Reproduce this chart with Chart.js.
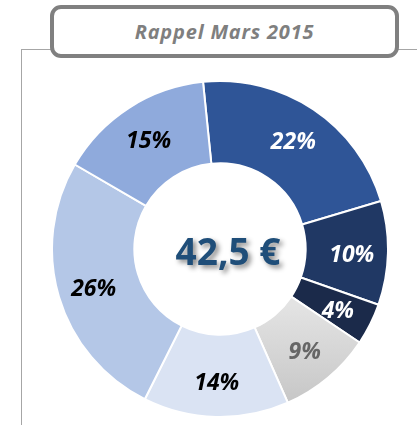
<!DOCTYPE html>
<html>
<head>
<meta charset="utf-8">
<script src="https://cdn.jsdelivr.net/npm/chart.js@4"></script>
<style>
  html, body { margin: 0; padding: 0; background: #fff; }
  body { width: 417px; height: 425px; position: relative; overflow: hidden; }
  /* cadre gris gauche / haut */
  .frame-left { position: absolute; left: 21px; top: 49px; width: 1px; height: 380px; background: #a6a6a6; }
  .frame-top1 { position: absolute; left: 21px; top: 49px; width: 32px; height: 1px; background: #a6a6a6; }
  .frame-top2 { position: absolute; left: 396px; top: 49px; width: 21px; height: 1px; background: #a6a6a6; }
  .title-box {
    position: absolute; left: 50px; top: 5px; width: 341px; height: 45px;
    border: 4px solid #808080; border-radius: 11px; background: #fff;
    font-family: "Open Sans", sans-serif; font-weight: bold; font-style: italic;
    font-size: 20px; letter-spacing: 0.8px; color: #7f7f7f; text-align: center; line-height: 45px;
  }
  #wrap { position: absolute; left: 51px; top: 80px; width: 338px; height: 338px; }
</style>
</head>
<body>
<div class="frame-left"></div>
<div class="frame-top1"></div>
<div class="frame-top2"></div>
<div class="title-box">Rappel Mars 2015</div>
<div id="wrap"><canvas id="chart"></canvas></div>
<script>
// Données du graphique (sens horaire, à partir du haut)
const values = [22, 10, 4, 9, 14, 26, 15];
const sliceColors = ['#2f5597', '#203864', '#1b2a4a', 'grey-gradient', '#dae3f3', '#b4c7e7', '#8faadc'];
const labelColors = ['#ffffff', '#ffffff', '#ffffff', '#666666', '#000000', '#000000', '#000000'];
const centerText = '42,5 €';

// Dégradé gris pour la part 9%
function sliceColor(context) {
    const c = sliceColors[context.dataIndex];
    if (c !== 'grey-gradient') return c;
    const chart = context.chart;
    if (!chart.chartArea) return '#d6d6d6';
    const g = chart.ctx.createLinearGradient(0, 225, 0, 335);
    g.addColorStop(0, '#e3e3e3');
    g.addColorStop(1, '#c3c3c3');
    return g;
}

// Étiquettes en pourcentage + texte central
const labelsPlugin = {
    id: 'labelsPlugin',
    afterDatasetsDraw(chart) {
        const ctx = chart.ctx;
        const meta = chart.getDatasetMeta(0);
        ctx.save();
        ctx.textAlign = 'center';
        ctx.textBaseline = 'middle';
        ctx.font = 'italic bold 23px "Open Sans", sans-serif';
        meta.data.forEach((arc, i) => {
            const a = arc.getProps(['x', 'y', 'startAngle', 'endAngle', 'innerRadius', 'outerRadius']);
            const mid = (a.startAngle + a.endAngle) / 2;
            // un peu plus vers l'extérieur que le milieu de l'anneau
            const r = a.innerRadius + (a.outerRadius - a.innerRadius) * 0.56;
            ctx.fillStyle = labelColors[i];
            ctx.fillText(values[i] + '%', a.x + Math.cos(mid) * r, a.y + Math.sin(mid) * r + 3);
        });
        const first = meta.data[0];
        ctx.font = 'bold 37px "Open Sans", sans-serif';
        ctx.shadowColor = 'rgba(0,0,0,0.45)';
        ctx.shadowBlur = 5;
        ctx.shadowOffsetX = 3;
        ctx.shadowOffsetY = 3;
        ctx.fillStyle = '#1f4e79';
        ctx.fillText(centerText, first.x + 8, first.y + 5);
        ctx.restore();
    }
};

new Chart(document.getElementById('chart'), {
    type: 'doughnut',
    data: {
        labels: values.map(v => v + '%'),
        datasets: [{
            data: values,
            backgroundColor: sliceColor,
            borderColor: '#ffffff',
            borderWidth: 2
        }]
    },
    options: {
        responsive: true,
        maintainAspectRatio: false,
        animation: false,
        rotation: -5.8,
        cutout: '51%',
        layout: { padding: 0 },
        plugins: {
            legend: { display: false },
            tooltip: { enabled: false }
        }
    },
    plugins: [labelsPlugin]
});
</script>
</body>
</html>
